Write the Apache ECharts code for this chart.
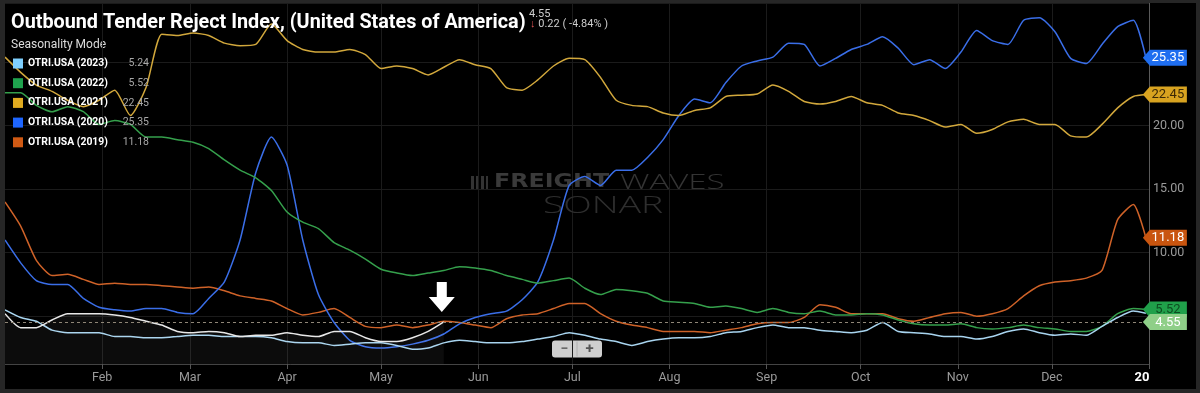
<!DOCTYPE html>
<html><head><meta charset="utf-8">
<script src="https://cdn.jsdelivr.net/npm/echarts@6/dist/echarts.min.js"></script>
<style>
html,body{margin:0;padding:0;background:#262626;overflow:hidden;}
#frame{position:absolute;left:0;top:0;width:1200px;height:393px;background:#262626;}
#chart{position:absolute;left:5px;top:3px;width:1191px;height:386px;background:#000;}
</style></head><body>
<div id="frame"><div id="chart"></div></div>
<script>
// ---------- DATA ----------
const TITLE = 'Outbound Tender Reject Index, (United States of America)';
const CURRENT_VALUE = 4.55;
const CHANGE_TEXT = ' 0.22 ( -4.84% )';

const MONTH_LABELS = ['Feb','Mar','Apr','May','Jun','Jul','Aug','Sep','Oct','Nov','Dec'];
const MONTH_START_DAYS = [31,59,90,120,151,181,212,243,273,304,334];
const END_DAY = 365;
const END_LABEL = '20';

// sample days (day of year, 0 = Jan 1)
const DAYS = [0,5,10,15,20,25,30,35,40,45,50,55,60,65,70,75,80,85,90,95,100,105,110,115,120,125,130,135,140,145,150,155,160,165,170,175,180,185,190,195,200,205,210,215,220,225,230,235,240,245,250,255,260,265,270,275,280,285,290,295,300,305,310,315,320,325,330,335,340,345,350,355,360,364];
const CURRENT_DAYS = [0,5,10,15,20,25,30,35,40,45,50,55,60,65,70,75,80,85,90,95,100,105,110,115,120,125,130,135,140];

const V2023 = [5.5,4.9,4.6,3.9,3.7,3.7,3.7,3.4,3.4,3.3,3.3,3.4,3.5,3.5,3.4,3.4,3.4,3.3,3.0,2.9,2.9,2.7,2.8,2.9,2.9,2.7,2.4,2.5,2.9,3.1,3.0,2.9,2.9,3.0,3.2,3.4,3.7,3.5,3.2,3.0,2.7,3.0,3.2,3.3,3.3,3.4,3.7,3.8,4.1,4.3,4.1,4.1,3.9,3.8,3.7,3.9,4.5,3.8,3.7,3.6,3.4,3.4,3.2,3.4,3.8,4.0,3.7,3.5,3.6,3.5,4.2,4.9,5.4,5.24];
const V2022 = [22.6,22.6,21.6,21.1,21.5,21.1,20.1,20.4,20.1,19.1,19.1,18.9,18.7,18.2,17.3,16.5,15.9,14.9,13.2,12.4,11.9,10.8,10.2,9.5,8.7,8.4,8.2,8.4,8.6,8.9,8.8,8.6,8.2,7.9,7.6,7.8,8.0,7.2,6.7,7.1,7.0,6.8,6.2,6.1,6.0,5.7,5.8,5.6,5.3,5.6,5.3,5.2,5.4,5.1,5.1,5.2,5.1,4.7,4.4,4.3,4.3,4.4,4.1,4.0,4.1,4.3,4.1,4.0,3.8,3.8,4.2,5.2,5.6,5.52];
const V2021 = [25.4,24.2,23.2,22.7,22.0,21.5,22.0,22.8,20.8,23.0,27.2,27.1,27.3,27.1,26.5,26.3,26.4,28.0,26.7,26.0,25.8,25.8,26.0,25.6,24.5,24.7,24.5,24.0,24.6,25.2,24.8,24.5,23.0,22.8,23.6,24.7,25.3,25.2,23.8,22.0,21.6,21.5,21.0,20.8,21.2,21.4,22.3,22.4,22.5,23.2,22.7,21.9,21.7,21.9,22.3,21.8,21.6,21.0,20.8,20.4,19.9,20.1,19.4,19.7,20.3,20.5,20.1,20.1,19.2,19.1,20.1,21.4,22.3,22.45];
const V2020 = [11.0,9.2,7.8,7.5,7.5,6.4,5.7,5.5,5.4,5.6,5.6,5.3,5.2,6.4,7.7,11.0,16.3,19.1,16.9,11.0,6.7,4.5,3.1,2.6,2.5,2.6,2.8,3.1,3.6,4.4,4.9,5.2,5.4,6.3,7.7,11.0,15.3,16.0,15.3,16.5,16.5,17.5,18.9,20.8,22.1,21.8,23.4,24.7,25.1,25.4,26.5,26.4,24.7,25.3,26.0,26.4,27.0,26.1,24.8,25.2,24.5,25.8,27.5,26.7,26.4,28.3,28.5,27.4,25.3,24.9,26.4,27.8,28.3,25.35];
const V2019 = [14.0,12.1,9.4,8.2,8.3,7.9,7.5,7.6,7.5,7.5,7.4,7.3,7.2,7.3,7.0,6.6,6.4,6.2,5.6,5.1,5.3,5.6,4.9,4.2,4.1,4.3,4.1,4.3,4.6,4.5,4.3,4.1,4.8,5.1,5.2,5.6,6.0,6.0,5.2,4.6,4.3,4.1,3.8,3.8,3.8,3.7,3.9,4.1,4.4,4.5,4.5,4.9,5.9,5.7,5.2,5.2,5.2,4.8,4.6,4.9,5.2,5.3,5.0,5.2,5.6,6.6,7.4,7.7,7.8,8.0,8.6,12.6,13.8,11.18];
const VCURRENT = [5.2,4.1,4.1,4.7,5.2,5.2,5.2,5.1,4.9,4.6,4.3,3.8,3.7,3.8,3.7,3.4,3.5,3.5,3.7,3.5,3.4,3.8,3.8,3.3,3.0,3.0,3.3,3.8,4.55];

const LEGEND_NAMES = ['OTRI.USA (2023)','OTRI.USA (2022)','OTRI.USA (2021)','OTRI.USA (2020)','OTRI.USA (2019)'];
const LEGEND_VALUES = ['5.24','5.52','22.45','25.35','11.18'];
const CURRENT_NAME = 'OTRI.USA (2024)';

// ---------- BUILD ----------
const CATS = [];
for (let d = 0; d <= END_DAY; d++) CATS.push('d' + d);
const isTick = (idx) => MONTH_START_DAYS.indexOf(idx) >= 0 || idx === END_DAY;

function pairs(days, vals){ return days.map((d,i)=>[d, vals[i]]); }

const TAG_PATH = 'path://M0,8 L7,0 L44,0 L44,16 L7,16 Z';
function tag(val, bg, fg){
  return {
    symbol: TAG_PATH, symbolSize: [44,16], symbolOffset: [19,0], silent: true,
    data: [{coord: [END_DAY - 1, val], value: val.toFixed(2)}],
    itemStyle: {color: bg},
    label: {show: true, position: 'inside', offset: [3,0.5], color: fg, fontSize: 13, fontFamily: 'Roboto', formatter: '{c}'}
  };
}

const DEFS = [
  {name:'OTRI.USA (2019)', v:V2019, sw:'#d05a14', line:'#cf6228', tag:['#c9550f','#ffffff']},
  {name:'OTRI.USA (2020)', v:V2020, sw:'#1e66ff', line:'#3a6ee8', tag:['#1f6ef0','#ffffff']},
  {name:'OTRI.USA (2021)', v:V2021, sw:'#e0ab20', line:'#d2a83c', tag:['#d8a320','#3a2806']},
  {name:'OTRI.USA (2022)', v:V2022, sw:'#1fa34e', line:'#35a04c', tag:['#20a04a','#0d4d20']},
  {name:'OTRI.USA (2023)', v:V2023, sw:'#7fd0ff', line:'#a8d4ef', tag:null}
];

const series = DEFS.map(s => {
  const o = {
    name: s.name, type: 'line', data: pairs(DAYS, s.v),
    showSymbol: false, symbol: 'none', smooth: 0.2,
    itemStyle: {color: s.sw},
    lineStyle: {color: s.line, width: 1.5},
    z: 3
  };
  if (s.tag) o.markPoint = tag(s.v[s.v.length-1], s.tag[0], s.tag[1]);
  return o;
});

series.push({
  name: CURRENT_NAME, type: 'line', data: pairs(CURRENT_DAYS, VCURRENT),
  showSymbol: false, symbol: 'none', smooth: 0.2,
  itemStyle: {color: '#eeeeee'},
  lineStyle: {color: '#e8e8e8', width: 1.5},
  areaStyle: {color: 'rgba(255,255,255,0.065)', origin: 'start'},
  z: 4,
  markLine: {
    silent: true, symbol: 'none', label: {show: false},
    lineStyle: {color: '#8f8677', type: [3,3], width: 1},
    data: [{yAxis: CURRENT_VALUE}]
  },
  markPoint: {
    silent: true,
    data: [
      {coord: [END_DAY - 1, CURRENT_VALUE], value: CURRENT_VALUE.toFixed(2),
       symbol: TAG_PATH, symbolSize: [44,16], symbolOffset: [19,0],
       itemStyle: {color: '#8fcf88'},
       label: {show: true, position: 'inside', offset: [3,0.5], color: '#ffffff', fontSize: 13, fontFamily: 'Roboto', formatter: '{c}'}},
      {coord: [CURRENT_DAYS[CURRENT_DAYS.length-1], CURRENT_VALUE],
       symbol: 'path://M8,0 L18,0 L18,15 L26,15 L13,30 L0,15 L8,15 Z', symbolSize: [26,30], symbolOffset: [-2,-25],
       itemStyle: {color: '#ffffff'}, label: {show: false}}
    ]
  }
});

const option = {
  backgroundColor: '#000',
  animation: false,
  textStyle: {fontFamily: 'Roboto'},
  title: {text: TITLE, left: 6, top: 10, padding: 0,
    textStyle: {color: '#ffffff', fontFamily: 'Roboto', fontWeight: 'bold', fontSize: 19.8}},
  legend: {
    data: LEGEND_NAMES, orient: 'vertical', left: 8, top: 53.5, padding: 0,
    itemWidth: 10, itemHeight: 10, itemGap: 5.7, icon: 'rect', selectedMode: false,
    itemStyle: {borderWidth: 0},
    formatter: name => '{n|' + name + '}{v|' + LEGEND_VALUES[LEGEND_NAMES.indexOf(name)] + '}',
    textStyle: {color: '#fff', lineHeight: 14,
      rich: {
        n: {width: 76, color: '#ffffff', fontWeight: 'bold', fontSize: 10.4, fontFamily: 'Roboto', lineHeight: 14},
        v: {width: 45, align: 'right', color: '#a8a8a8', fontSize: 10.5, fontFamily: 'Roboto', lineHeight: 14}
      }}
  },
  grid: {left: 0, right: 47, top: 0, bottom: 25},
  xAxis: {
    type: 'category', data: CATS, boundaryGap: false,
    axisLine: {lineStyle: {color: '#444'}},
    axisTick: {interval: isTick, length: 5, lineStyle: {color: '#555'}},
    axisLabel: {
      interval: isTick, color: '#9a9a9a', fontSize: 12.5, margin: 7, fontFamily: 'Roboto',
      formatter: (val, idx) => {
        if (idx === END_DAY) return '{e|' + END_LABEL + '}';
        const k = MONTH_START_DAYS.indexOf(idx);
        return k >= 0 ? MONTH_LABELS[k] : '';
      },
      rich: {e: {fontWeight: 'bold', color: '#ffffff', fontSize: 13, fontFamily: 'Roboto', padding: [0,14,0,0]}}
    },
    splitLine: {show: true, interval: isTick, lineStyle: {color: '#1b1b1b'}}
  },
  yAxis: {
    type: 'value', position: 'right', min: 1.236, max: 29.66, splitNumber: 5,
    axisLine: {show: true, lineStyle: {color: '#5a5a5a'}},
    axisTick: {show: false},
    axisLabel: {color: '#9a9a9a', fontSize: 12.5, margin: 4, fontFamily: 'Roboto',
      showMinLabel: false, showMaxLabel: false, formatter: v => v.toFixed(2)},
    splitLine: {show: true, lineStyle: {color: '#1b1b1b'}}
  },
  series: series,
  graphic: [
    {type: 'text', left: 6, top: 36, silent: true,
     style: {text: 'Seasonality Mode', fill: '#dddddd', font: '12px Roboto'}},
    {type: 'text', left: 524, top: 6, silent: true,
     style: {text: CURRENT_VALUE.toFixed(2), fill: '#cccccc', font: '11px Roboto'}},
    {type: 'text', left: 525, top: 16, silent: true,
     style: {text: '{r|\u2193}{g|' + CHANGE_TEXT + '}', rich: {
        r: {fill: '#e05555', font: 'bold 11px Roboto'},
        g: {fill: '#cccccc', font: '11px Roboto'}}}},
    // watermark
    {type: 'group', left: 466, top: 173, z: 1, silent: true, children: [
      {type: 'rect', shape: {x: 0, y: 0, width: 3, height: 14}, style: {fill: '#333'}},
      {type: 'rect', shape: {x: 5, y: 0, width: 3, height: 14}, style: {fill: '#333'}},
      {type: 'rect', shape: {x: 10, y: 0, width: 3, height: 14}, style: {fill: '#333'}},
      {type: 'rect', shape: {x: 15, y: 0, width: 2, height: 14}, style: {fill: '#333'}}
    ]},
    {type: 'text', left: 489, top: 170, z: 1, silent: true, scaleX: 1.25,
     style: {text: 'FREIGHT', fill: '#3a3a3a', font: 'bold 19px "DejaVu Sans"'}},
    {type: 'text', left: 615, top: 170, z: 1, silent: true, scaleX: 1.65,
     style: {text: 'WAVES', fill: '#343434', font: '300 20px "Open Sans"'}},
    {type: 'text', left: 538, top: 192, z: 1, silent: true, scaleX: 1.62,
     style: {text: 'SONAR', fill: '#2e2e2e', font: '300 23px "Open Sans"'}},
    // zoom control
    {type: 'group', left: 547, top: 336, z: 100, silent: true, children: [
      {type: 'rect', shape: {x: 0, y: 0, width: 50, height: 17, r: 3}, style: {fill: '#cfcfcf'}},
      {type: 'line', shape: {x1: 25, y1: 1, x2: 25, y2: 16}, style: {stroke: '#b0b0b0', lineWidth: 1}},
      {type: 'text', x: 12.5, y: 8.5, style: {text: '\u2212', fill: '#666', font: 'bold 14px Roboto', align: 'center', verticalAlign: 'middle'}},
      {type: 'text', x: 37.5, y: 8.5, style: {text: '+', fill: '#555', font: 'bold 15px Roboto', align: 'center', verticalAlign: 'middle'}}
    ]}
  ]
};

const chart = echarts.init(document.getElementById('chart'), null, {renderer: 'canvas'});
chart.setOption(option);
</script>
</body></html>
